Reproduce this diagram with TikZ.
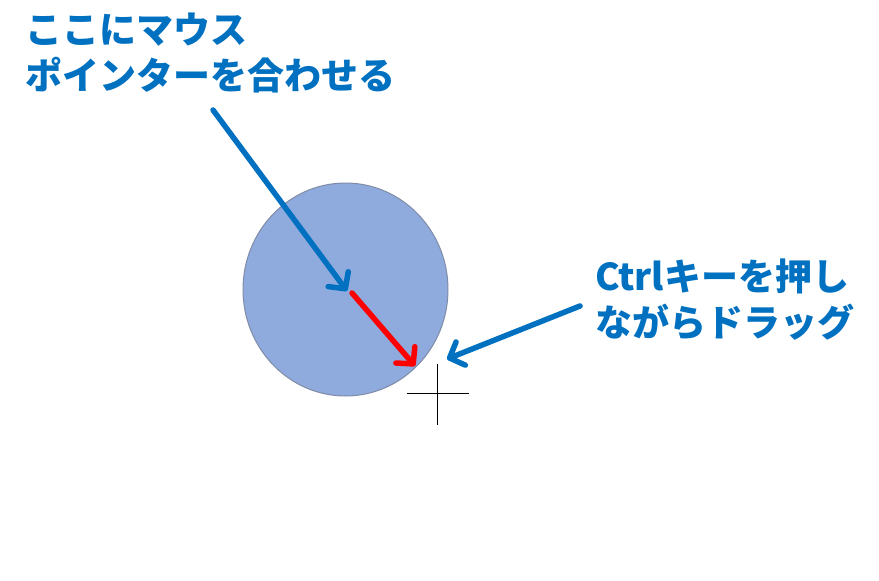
\documentclass[tikz,border=0pt]{standalone}
\usepackage{fontspec}
\newfontfamily\jp{Noto Sans CJK JP}
\usetikzlibrary{arrows.meta,shapes.geometric}
\definecolor{txtblue}{HTML}{0070C0}
\definecolor{discfill}{HTML}{8FAADC}
\definecolor{discline}{HTML}{7F8CA8}
\tikzset{
  callout/.style={anchor=base west, align=left, inner sep=0pt, text=txtblue,
    font=\jp\bfseries\fontsize{37}{46}\selectfont},
  pointer/.style={line width=5.5pt, line cap=round, draw=txtblue,
    -{Straight Barb[length=12pt,width=25pt,round]}},
  dragarrow/.style={pointer, draw=red},
}
\begin{document}
\begin{tikzpicture}[x=1pt,y=-1pt]
\useasboundingbox (0,0) rectangle (879,581);
\node[ellipse, draw=discline, fill=discfill, line width=1pt,
  minimum width=205pt, minimum height=213pt, inner sep=0pt] (disc) at (345.5,289.5) {};
\node[callout] (hint) at (25,89) {ここにマウス\\ポインターを合わせる};
\node[callout] (ctrl) at (595,336) {Ctrlキーを押し\\ながらドラッグ};
\coordinate (p1s) at (213,110);
\coordinate (p1e) at (347,291);
\coordinate (ds) at (352,293);
\coordinate (de) at (415,366);
\coordinate (p2s) at (580,306);
\coordinate (p2e) at (447,359);
\draw[pointer] (p1s) -- (p1e);
\draw[dragarrow] (ds) -- (de);
\draw[pointer] (p2s) -- (p2e);
\coordinate (cross) at (437,393);
\draw[line width=1pt] ([yshift=-32pt]cross) -- ([yshift=29pt]cross)
  ([xshift=-30pt]cross) -- ([xshift=32pt]cross);
\end{tikzpicture}
\end{document}
